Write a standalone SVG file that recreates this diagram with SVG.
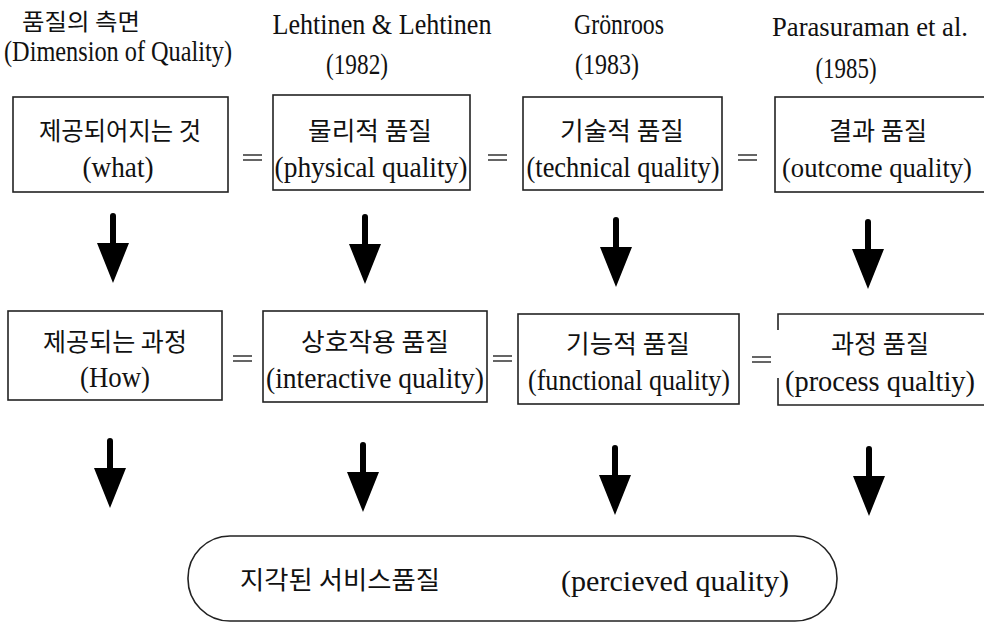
<svg xmlns="http://www.w3.org/2000/svg" width="984" height="623" viewBox="0 0 984 623">
  <style>
    .lat { font-family: "Liberation Serif", "Times New Roman", serif; font-size: 30px; fill: #111; }
    .kor { font-family: "Noto Sans CJK KR", "Noto Sans", sans-serif; font-size: 25px; fill: #111; }
    .sm { font-size: 27px; }
    .hd { font-size: 23px; }
    .box { fill: #fff; stroke: #222; stroke-width: 1.6; }
    .eq { stroke: #333; stroke-width: 1.4; }
    .arrow { fill: #000; }
  </style>
  <defs>
    <!-- thick down arrow: rounded shaft, triangular head, 70px tall -->
    <path id="down" d="M-3,3 A3,3 0 0 1 3,3 V30 H16 L0,70 L-16,30 H-3 Z"/>
  </defs>
  <rect width="984" height="623" fill="#fff"/>

  <!-- column headings -->
  <g id="headings">
    <text class="kor hd" x="81" y="30" text-anchor="middle" textLength="118" lengthAdjust="spacingAndGlyphs">품질의 측면</text>
    <text class="lat" x="118" y="61" text-anchor="middle" textLength="228" lengthAdjust="spacingAndGlyphs">(Dimension of Quality)</text>
    <text class="lat" x="382" y="34" text-anchor="middle" textLength="219" lengthAdjust="spacingAndGlyphs">Lehtinen &amp; Lehtinen</text>
    <text class="lat" x="357" y="74" text-anchor="middle" textLength="62" lengthAdjust="spacingAndGlyphs">(1982)</text>
    <text class="lat" x="619" y="34" text-anchor="middle" textLength="90" lengthAdjust="spacingAndGlyphs">Grönroos</text>
    <text class="lat" x="607" y="74" text-anchor="middle" textLength="64" lengthAdjust="spacingAndGlyphs">(1983)</text>
    <text class="lat sm" x="870" y="36" text-anchor="middle" textLength="196" lengthAdjust="spacingAndGlyphs">Parasuraman et al.</text>
    <text class="lat" x="846" y="78" text-anchor="middle" textLength="61" lengthAdjust="spacingAndGlyphs">(1985)</text>
  </g>

  <!-- row 1: what is delivered -->
  <g id="what">
    <rect class="box" x="13" y="97" width="215" height="95"/>
    <text class="kor" x="120" y="140" text-anchor="middle" textLength="162" lengthAdjust="spacingAndGlyphs">제공되어지는 것</text>
    <text class="lat" x="118" y="177" text-anchor="middle" textLength="71" lengthAdjust="spacingAndGlyphs">(what)</text>
  </g>
  <g id="physical">
    <rect class="box" x="273" y="95" width="197" height="95"/>
    <text class="kor" x="370" y="140" text-anchor="middle" textLength="124" lengthAdjust="spacingAndGlyphs">물리적 품질</text>
    <text class="lat" x="371" y="177" text-anchor="middle" textLength="193" lengthAdjust="spacingAndGlyphs">(physical quality)</text>
  </g>
  <g id="technical">
    <rect class="box" x="523" y="97" width="199" height="93"/>
    <text class="kor" x="622" y="140" text-anchor="middle" textLength="124" lengthAdjust="spacingAndGlyphs">기술적 품질</text>
    <text class="lat" x="623" y="177" text-anchor="middle" textLength="193" lengthAdjust="spacingAndGlyphs">(technical quality)</text>
  </g>
  <g id="outcome">
    <rect class="box" x="775" y="97" width="220" height="95"/>
    <text class="kor" x="878" y="140" text-anchor="middle" textLength="98" lengthAdjust="spacingAndGlyphs">결과 품질</text>
    <text class="lat sm" x="877" y="177" text-anchor="middle" textLength="190" lengthAdjust="spacingAndGlyphs">(outcome quality)</text>
  </g>

  <!-- row 2: how it is delivered -->
  <g id="how">
    <rect class="box" x="8" y="311" width="214" height="89"/>
    <text class="kor" x="115" y="351" text-anchor="middle" textLength="144" lengthAdjust="spacingAndGlyphs">제공되는 과정</text>
    <text class="lat" x="115" y="387" text-anchor="middle" textLength="70" lengthAdjust="spacingAndGlyphs">(How)</text>
  </g>
  <g id="interactive">
    <rect class="box" x="263" y="311" width="224" height="91"/>
    <text class="kor" x="375" y="351" text-anchor="middle" textLength="148" lengthAdjust="spacingAndGlyphs">상호작용 품질</text>
    <text class="lat" x="375" y="388" text-anchor="middle" textLength="218" lengthAdjust="spacingAndGlyphs">(interactive quality)</text>
  </g>
  <g id="functional">
    <rect class="box" x="518" y="314" width="221" height="90"/>
    <text class="kor" x="628" y="353" text-anchor="middle" textLength="124" lengthAdjust="spacingAndGlyphs">기능적 품질</text>
    <text class="lat" x="629" y="390" text-anchor="middle" textLength="202" lengthAdjust="spacingAndGlyphs">(functional quality)</text>
  </g>
  <g id="process">
    <path fill="none" stroke="#222" stroke-width="1.6" d="M778,330 V314 H990 M778,378 V405 H990"/>
    <text class="kor" x="880" y="353" text-anchor="middle" textLength="98" lengthAdjust="spacingAndGlyphs">과정 품질</text>
    <text class="lat" x="880" y="391" text-anchor="middle" textLength="190" lengthAdjust="spacingAndGlyphs">(process qualtiy)</text>
  </g>

  <!-- result -->
  <g id="perceived">
    <rect class="box" x="188" y="536" width="649" height="85" rx="42" ry="42"/>
    <text class="kor" x="340" y="589" text-anchor="middle" textLength="200" lengthAdjust="spacingAndGlyphs">지각된 서비스품질</text>
    <text class="lat" x="675" y="591" text-anchor="middle" textLength="228" lengthAdjust="spacingAndGlyphs">(percieved quality)</text>
  </g>

  <!-- connectors: equivalence marks and down arrows -->
  <g id="connectors">
    <g class="eq">
      <path d="M243,155 H262 M243,160 H262"/>
      <path d="M488,155 H507 M488,160 H507"/>
      <path d="M738,155 H757 M738,160 H757"/>
      <path d="M233,356 H252 M233,361 H252"/>
      <path d="M493,356 H512 M493,361 H512"/>
      <path d="M752,357 H771 M752,362 H771"/>
    </g>
    <g class="arrow">
      <use href="#down" x="113" y="213"/>
      <use href="#down" x="365" y="214"/>
      <use href="#down" x="616" y="217"/>
      <use href="#down" x="868" y="219"/>
      <use href="#down" x="110" y="438"/>
      <use href="#down" x="363" y="442"/>
      <use href="#down" x="615" y="445"/>
      <use href="#down" x="869" y="446"/>
    </g>
  </g>
</svg>
